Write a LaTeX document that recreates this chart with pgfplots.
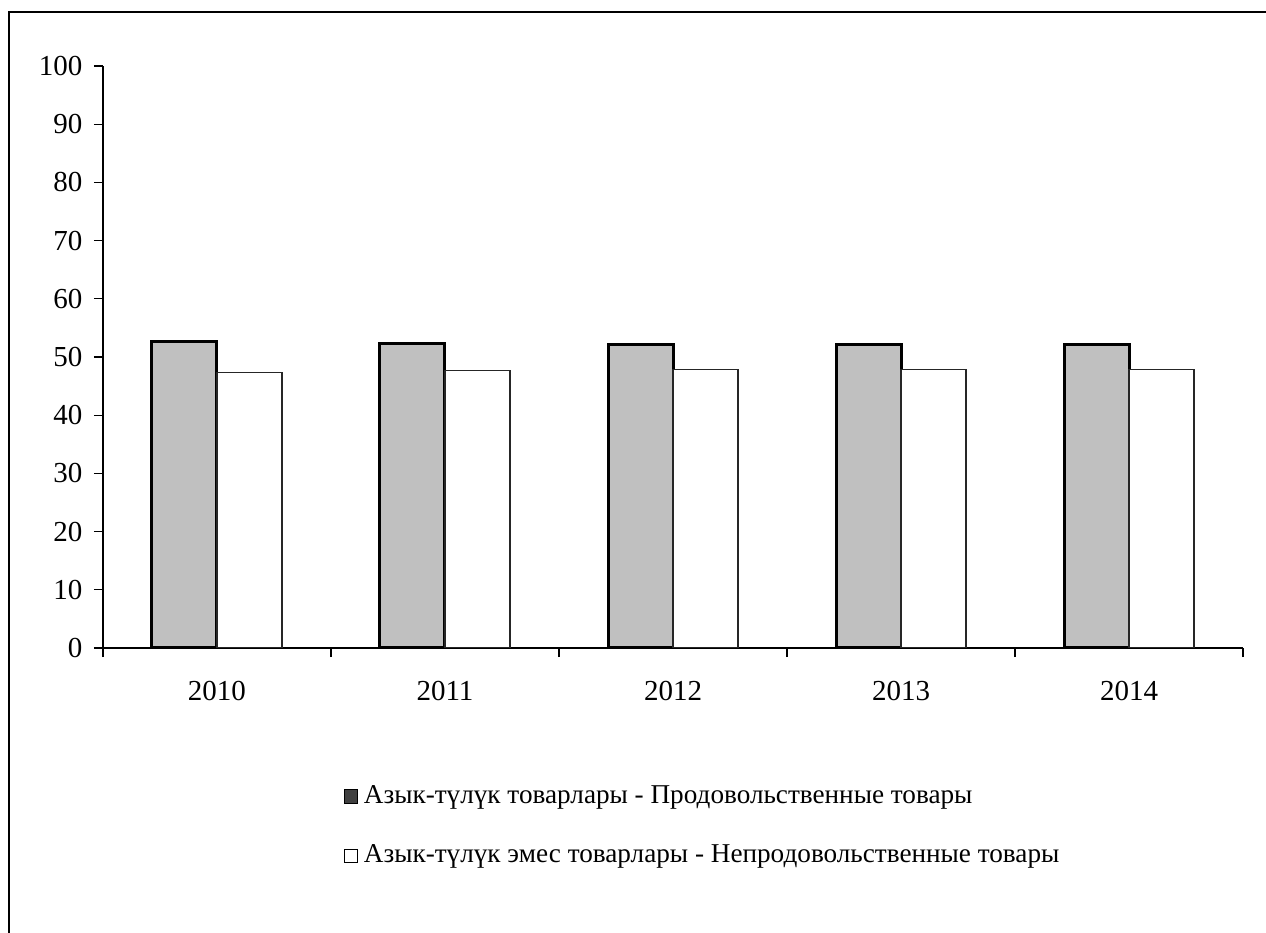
\documentclass[border=0pt]{standalone}
\usepackage{pgfplots}
\pgfplotsset{compat=1.18}
\usepackage{fontspec}
\setmainfont{Liberation Serif}
\definecolor{barfill}{HTML}{C0C0C0}
\definecolor{legdark}{HTML}{404040}

\begin{document}
\fontsize{14}{16}\selectfont
\begin{tikzpicture}[x=0.5pt,y=0.5pt]
\path[use as bounding box] (0,0) rectangle (1266,933);
\draw[line width=1.45pt] (9,-5) -- (9,921) -- (1270,921);
\begin{axis}[
    at={(51.5pt,142.5pt)}, anchor=south west,
    scale only axis,
    width=570pt, height=291pt,
    ybar=0pt, bar width=32.5pt,
    xmin=-0.5, xmax=4.5,
    ymin=0, ymax=100,
    ytick={0,10,...,100},
    xtick={0,...,4},
    xticklabels={2010,2011,2012,2013,2014},
    minor xtick={-0.5,0.5,...,4.5},
    axis x line*=bottom, axis y line*=left,
    axis line style={line width=0.6pt},
    tick align=outside,
    major x tick style={draw=none},
    minor tick length=4.5pt, major tick length=4.5pt,
    every tick/.style={black, line width=0.6pt},
    /pgf/number format/assume math mode=true,
    tick label style={font=\fontsize{14.5}{16}\selectfont},
    yticklabel style={xshift=-1pt},
    xticklabel style={yshift=-7pt},
    legend cell align=left,
    legend style={draw=none, fill=none, at={(0.2055,-0.222)}, anchor=north west,
        font=\fontsize{13.6}{16}\selectfont, row sep=14.5pt,
        /tikz/every even column/.append style={column sep=2pt}},
]
\addplot[fill=barfill, draw=black, line width=1.5pt,
    legend image code/.code={\draw[fill=legdark,draw=black,line width=0.5pt] (0pt,-3.2pt) rectangle (6.6pt,3.4pt);}]
    coordinates {(0,52.7) (1,52.3) (2,52.2) (3,52.1) (4,52.1)};
\addplot[fill=white, draw=black!85, line width=0.6pt,
    legend image code/.code={\draw[fill=white,draw=black,line width=0.5pt] (0pt,-3.2pt) rectangle (6.6pt,3.4pt);}]
    coordinates {(0,47.3) (1,47.7) (2,47.8) (3,47.9) (4,47.9)};
\legend{\hspace{1pt}Азык-түлүк товарлары - Продовольственные товары,
        \hspace{1pt}Азык-түлүк эмес товарлары - Непродовольственные товары}
\end{axis}
\end{tikzpicture}
\end{document}
